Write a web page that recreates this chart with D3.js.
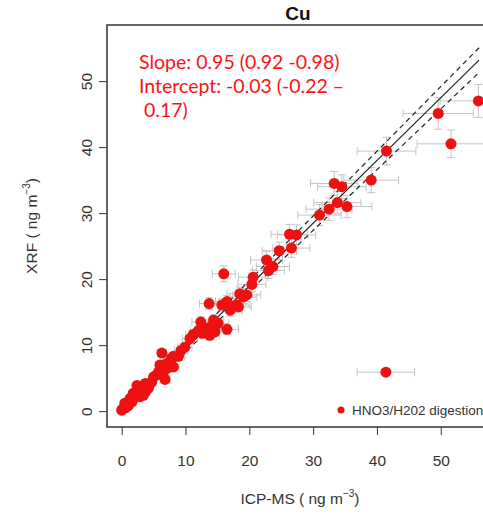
<!DOCTYPE html>
<html><head><meta charset="utf-8">
<script src="https://cdn.jsdelivr.net/npm/d3@7"></script>
<style>body{margin:0;background:#fff;} svg{display:block;}</style>
</head><body>
<script>
const title = "Cu";
const icpms = [55.9,49.6,51.6,41.5,39.1,33.3,34.5,33.8,32.5,35.3,31.0,26.3,27.4,24.7,26.6,22.7,23.7,23.0,16.0,20.6,20.4,19.1,19.6,13.7,16.5,15.7,18.0,18.3,17.0,12.4,14.4,15.1,13.3,16.5,14.6,12.7,13.8,10.7,9.9,8.1,6.3,8.9,7.8,7.6,6.0,8.1,7.1,6.5,5.5,6.8,4.7,3.7,2.4,3.1,1.8,3.4,2.9,1.3,1.6,0.5,0.0,0.2,41.4,11.2,9.3,5.0,4.2,2.0,1.0,0.6,3.8,7.0,5.8,12.0,14.0,18.5];
const xrf   = [47.0,45.1,40.5,39.4,35.0,34.5,34.0,31.6,30.6,31.0,29.7,26.8,26.7,24.3,24.7,22.9,21.9,21.3,20.8,20.3,19.2,17.3,17.6,16.3,16.6,16.1,16.1,15.8,15.3,13.5,13.8,13.3,12.3,12.4,12.0,11.8,11.5,11.0,9.7,8.3,8.8,8.3,8.0,7.5,7.0,6.7,6.5,5.7,5.5,4.8,4.4,4.2,3.9,3.4,2.7,2.4,2.2,1.9,1.4,1.2,0.15,0.4,5.9,11.6,9.2,5.2,3.5,2.0,0.8,0.5,3.0,7.2,6.0,12.2,12.8,17.8];
const icpmsErr = [6.0,5.5,5.3,4.6,4.3,3.7,3.8,3.7,3.6,3.9,3.4,2.9,3.0,2.7,2.9,2.5,2.6,2.5,1.8,2.3,2.2,2.1,2.2,1.5,1.8,1.7,2.0,2.0,1.9,1.4,1.6,1.7,1.5,1.8,1.6,1.4,1.5,1.2,1.1,0.9,0.7,1.0,0.9,0.8,0.7,0.9,0.8,0.7,0.6,0.7,0.5,0.4,0.3,0.3,0.2,0.4,0.3,0.1,0.2,0.1,0.0,0.0,4.5,1.2,1.0,0.6,0.5,0.2,0.1,0.1,0.4,0.8,0.6,1.3,1.5,2.0];
const xrfErr = [2.5,2.4,2.1,2.1,1.9,1.8,1.8,1.7,1.7,1.7,1.6,1.5,1.5,1.3,1.4,1.3,1.2,1.2,1.2,1.1,1.1,1.0,1.0,0.9,0.9,0.9,0.9,0.9,0.9,0.8,0.8,0.8,0.7,0.7,0.7,0.7,0.7,0.6,0.6,0.5,0.5,0.5,0.5,0.5,0.4,0.4,0.4,0.4,0.4,0.3,0.3,0.3,0.3,0.3,0.2,0.2,0.2,0.2,0.2,0.1,0.1,0.1,0.5,0.7,0.6,0.4,0.3,0.2,0.1,0.1,0.2,0.4,0.4,0.7,0.7,1.0];
const xTicks = [0,10,20,30,40,50];
const yTicks = [0,10,20,30,40,50];
const fitLines = [
  {slope:0.95, intercept:-0.03, dash:null},
  {slope:0.98, intercept:0.17, dash:"5,4"},
  {slope:0.92, intercept:-0.22, dash:"5,4"}
];
const fitRange = [0, 56];
const statText = ["Slope: 0.95 (0.92 -0.98)", "Intercept: -0.03 (-0.22 \u2013", " 0.17)"];
const legendLabel = "HNO3/H202 digestion";

const W = 483, H = 516;
const svg = d3.select("body").append("svg").attr("width", W).attr("height", H);
const box = {left:107, top:25, right:495, bottom:427};
const x = d3.scaleLinear().domain([-2.3, 58.5]).range([box.left, box.right]);
const y = d3.scaleLinear().domain([-2.4, 58.5]).range([box.bottom, box.top]);

const font = "'Liberation Sans', Arial, sans-serif";
const txtCol = "#333";

// error bars
const eb = svg.append("g").attr("stroke", "#c4c4c4").attr("stroke-width", 1).attr("fill", "none");
const cap = 4;
icpms.forEach((xv, i) => {
  const yv = xrf[i], ex = icpmsErr[i], ey = xrfErr[i];
  const cx = x(xv), cy = y(yv);
  const x0 = x(xv - ex), x1 = x(xv + ex), y0 = y(yv - ey), y1 = y(yv + ey);
  eb.append("line").attr("x1", x0).attr("x2", x1).attr("y1", cy).attr("y2", cy);
  eb.append("line").attr("x1", x0).attr("x2", x0).attr("y1", cy - cap).attr("y2", cy + cap);
  eb.append("line").attr("x1", x1).attr("x2", x1).attr("y1", cy - cap).attr("y2", cy + cap);
  eb.append("line").attr("x1", cx).attr("x2", cx).attr("y1", y0).attr("y2", y1);
  eb.append("line").attr("x1", cx - cap).attr("x2", cx + cap).attr("y1", y0).attr("y2", y0);
  eb.append("line").attr("x1", cx - cap).attr("x2", cx + cap).attr("y1", y1).attr("y2", y1);
});

// fit lines
fitLines.forEach(l => {
  svg.append("line")
    .attr("x1", x(fitRange[0])).attr("y1", y(l.slope * fitRange[0] + l.intercept))
    .attr("x2", x(fitRange[1])).attr("y2", y(l.slope * fitRange[1] + l.intercept))
    .attr("stroke", "#222").attr("stroke-width", 1.2)
    .attr("stroke-dasharray", l.dash);
});

// points
svg.append("g").selectAll("circle").data(icpms).join("circle")
  .attr("cx", d => x(d)).attr("cy", (d, i) => y(xrf[i])).attr("r", 5.5)
  .attr("fill", "#ee1111");

// box
svg.append("rect").attr("x", box.left).attr("y", box.top)
  .attr("width", box.right - box.left).attr("height", box.bottom - box.top)
  .attr("fill", "none").attr("stroke", "#333").attr("stroke-width", 1.5);

// x axis
const xa = svg.append("g").attr("transform", `translate(0,${box.bottom})`)
  .call(d3.axisBottom(x).tickValues(xTicks).tickSize(8).tickPadding(20).tickFormat(d3.format("d")));
xa.select(".domain").remove();
xa.selectAll("line").attr("stroke", "#333");
xa.selectAll("text").attr("font-family", font).attr("font-size", 15.5).attr("fill", txtCol);

// y axis
const ya = svg.append("g").attr("transform", `translate(${box.left},0)`)
  .call(d3.axisLeft(y).tickValues(yTicks).tickSize(8).tickFormat(d3.format("d")));
ya.select(".domain").remove();
ya.selectAll("line").attr("stroke", "#333");
ya.selectAll("text").remove();
ya.selectAll(".tick").append("text")
  .attr("transform", "translate(-15,0) rotate(-90)")
  .attr("text-anchor", "middle").attr("dy", "0")
  .attr("font-family", font).attr("font-size", 15.5).attr("fill", txtCol)
  .text(d => d);

// title
svg.append("text").attr("x", 298).attr("y", 20).attr("text-anchor", "middle")
  .attr("font-family", font).attr("font-weight", "bold").attr("font-size", 19).attr("fill", "#111")
  .text(title);

// axis labels
const xl = svg.append("text").attr("x", 300).attr("y", 504).attr("text-anchor", "middle")
  .attr("font-family", font).attr("font-size", 15.5).attr("fill", txtCol);
xl.append("tspan").text("ICP-MS ( ng m");
xl.append("tspan").attr("font-size", 10).attr("dy", -7).text("\u22123");
xl.append("tspan").attr("dy", 7).text(")");

const yl = svg.append("text").attr("transform", "translate(37,226) rotate(-90)").attr("text-anchor", "middle")
  .attr("font-family", font).attr("font-size", 15.5).attr("fill", txtCol);
yl.append("tspan").text("XRF ( ng m");
yl.append("tspan").attr("font-size", 10).attr("dy", -7).text("\u22123");
yl.append("tspan").attr("dy", 7).text(")");

// stats text
statText.forEach((t, i) => {
  svg.append("text").attr("x", 139).attr("y", 69 + i * 24)
    .attr("font-family", "Lato, 'Open Sans', sans-serif").attr("font-size", 19.5).attr("fill", "#ff1111")
    .attr("xml:space", "preserve").style("white-space", "pre")
    .text(t);
});

// legend
svg.append("circle").attr("cx", 341).attr("cy", 410).attr("r", 3.5).attr("fill", "#ee1111");
svg.append("text").attr("x", 352).attr("y", 415).attr("font-family", font).attr("font-size", 13.5)
  .attr("fill", txtCol).text(legendLabel);
</script>
</body></html>
